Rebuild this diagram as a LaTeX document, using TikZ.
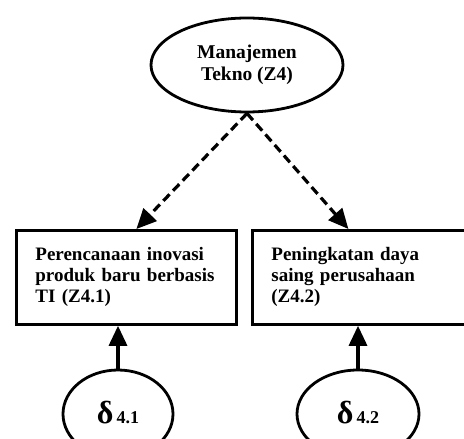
\documentclass[tikz,border=0pt]{standalone}
\usepackage{fontspec}
\setmainfont{Liberation Serif}
\usetikzlibrary{arrows.meta,shapes.geometric}

\begin{document}
\begin{tikzpicture}[x=1bp,y=-1bp,
  latent/.style={ellipse, draw, line width=2.8bp, inner sep=0pt, align=center,
    font=\bfseries\fontsize{19.5bp}{21.5bp}\selectfont},
  indicator/.style={rectangle, draw, line width=2.8bp, align=left,
    inner xsep=19bp, inner ysep=0pt, minimum height=94bp, anchor=north west,
    font=\bfseries\fontsize{19bp}{21bp}\selectfont},
  errnode/.style={ellipse, draw, line width=2.8bp, inner sep=0pt,
    minimum height=88bp},
  loading/.style={line width=3.2bp, dash pattern=on 9bp off 5bp,
    -{Triangle[length=20bp,width=18bp]}},
  errorpath/.style={line width=3.2bp, -{Triangle[length=20bp,width=18bp]}}
]
\useasboundingbox (0,0) rectangle (464,439);

% latent construct
\node[latent, minimum width=192bp, minimum height=94bp] (z4) at (247,65)
  {Manajemen\\Tekno (Z4)};

% indicators
\node[indicator, text width=182bp] (z41) at (15,229)
  {\mbox{Perencanaan inovasi}\\\mbox{produk baru berbasis}\\TI (Z4.1)};
\node[indicator, text width=191bp] (z42) at (251,229)
  {\mbox{Peningkatan daya}\\\mbox{saing perusahaan}\\(Z4.2)};

% measurement errors
\node[errnode, minimum width=110bp] (d41) at (118,414)
  {\raisebox{3bp}{\bfseries\fontsize{32bp}{32bp}\selectfont δ\hspace{3bp}\fontsize{18bp}{18bp}\selectfont 4.1}};
\node[errnode, minimum width=122bp] (d42) at (358,414)
  {\raisebox{3bp}{\bfseries\fontsize{32bp}{32bp}\selectfont δ\hspace{3bp}\fontsize{18bp}{18bp}\selectfont 4.2}};

% loadings
\draw[loading] (z4.south) -- ([xshift=10bp]z41.north);
\draw[loading] (z4.south) -- ([xshift=-18.5bp]z42.north);

% error paths
\draw[errorpath] (d41.north) -- (d41.north |- z41.south);
\draw[errorpath] (d42.north) -- (d42.north |- z42.south);
\end{tikzpicture}
\end{document}
